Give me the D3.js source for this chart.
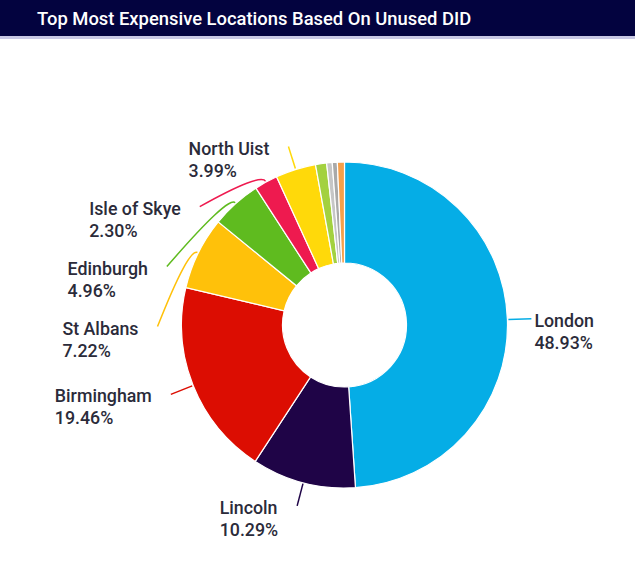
<!DOCTYPE html>
<html>
<head>
<meta charset="utf-8">
<script src="https://cdn.jsdelivr.net/npm/d3@7"></script>
<style>
  body { margin: 0; background: #fff; }
  text { font-family: Roboto, "Noto Sans", sans-serif; }
</style>
</head>
<body>
<div id="chart"></div>
<script>
// data (share of unused DID cost, %)
const locations = ["London", "Lincoln", "Birmingham", "St Albans", "Edinburgh", "Isle of Skye",
                   "North Uist", "Other 1", "Other 2", "Other 3", "Other 4"];
const shares = [48.93, 10.29, 19.46, 7.22, 4.96, 2.30, 3.99, 1.10, 0.55, 0.50, 0.70];
const sliceColors = ["#05ade6", "#1f0447", "#dc0d02", "#ffc10a", "#5fbb1f", "#ee1a4f",
                     "#ffd90a", "#a3d13f", "#c6c6c6", "#a9a9a9", "#f6a04a"];
const titleText = "Top Most Expensive Locations Based On Unused DID";

const width = 635, height = 575;
const cx = 344.5, cy = 325;
const outerR = 163, innerR = 62;
const labelR = 187;     // where leader lines end
const minGap = 60;      // vertical spacing between stacked labels

const svg = d3.select("#chart").append("svg")
    .attr("width", width)
    .attr("height", height);

// title band
svg.append("rect").attr("x", 0).attr("y", 0).attr("width", width).attr("height", 36).attr("fill", "#03033f");
svg.append("rect").attr("x", 0).attr("y", 36).attr("width", width).attr("height", 3).attr("fill", "#c8c8e4");
svg.append("text")
    .attr("x", 37).attr("y", 25)
    .attr("fill", "#fff")
    .style("font-size", "18.4px")
    .style("font-weight", 500)
    .text(titleText);

const data = locations.map((name, i) => ({ name, value: shares[i], color: sliceColors[i] }));

const pie = d3.pie().sort(null).value(d => d.value);
const arcs = pie(data);

const arc = d3.arc().innerRadius(innerR).outerRadius(outerR);

const g = svg.append("g").attr("transform", `translate(${cx},${cy})`);

g.selectAll("path.slice")
    .data(arcs)
    .enter().append("path")
    .attr("class", "slice")
    .attr("d", arc)
    .attr("fill", d => d.data.color)
    .attr("stroke", "#fff")
    .attr("stroke-width", 1.2);

// polar helper, angle measured clockwise from 12 o'clock
const polar = (r, a) => ({ x: r * Math.sin(a), y: -r * Math.cos(a) });

// labels only for slices big enough to be named
const labelled = arcs.filter(d => d.data.value >= 2).map(d => {
    const mid = (d.startAngle + d.endAngle) / 2;
    const p = polar(labelR, mid);
    return { d, mid, right: mid < Math.PI, x: p.x, y: p.y };
});

// stack labels on each side so they keep minGap apart
["left", "right"].forEach(side => {
    const group = labelled.filter(l => (side === "right") === l.right).sort((a, b) => a.y - b.y);
    for (let i = 1; i < group.length; i++) {
        if (group[i].y < group[i - 1].y + minGap) group[i].y = group[i - 1].y + minGap;
    }
    group.forEach(l => {
        const dy = Math.max(-labelR, Math.min(labelR, l.y));
        const dx = Math.sqrt(labelR * labelR - dy * dy);
        l.x = l.right ? dx : -dx;
    });
});

const leaders = g.append("g").attr("class", "leaders");
const labels = g.append("g").attr("class", "labels");

labelled.forEach(l => {
    const p0 = polar(outerR + 1, l.mid);
    const p1 = polar(outerR + 11, l.mid);
    const path = d3.path();
    path.moveTo(p0.x, p0.y);
    path.quadraticCurveTo(p1.x, p1.y, l.x, l.y);
    leaders.append("path")
        .attr("d", path.toString())
        .attr("fill", "none")
        .attr("stroke", l.d.data.color)
        .attr("stroke-width", 1.5);

    const t = labels.append("text")
        .attr("fill", "#2b2b3a")
        .style("font-size", "17.8px")
        .style("font-weight", 500);
    const name = t.append("tspan").attr("y", l.y + 8).text(l.d.data.name);
    const pct = t.append("tspan").attr("y", l.y + 30).text(l.d.data.value.toFixed(2) + "%");
    const w = Math.max(name.node().getComputedTextLength(), pct.node().getComputedTextLength());
    const x = l.right ? l.x + 3 : l.x - 19 - w;
    name.attr("x", x);
    pct.attr("x", x);
});
</script>
</body>
</html>
